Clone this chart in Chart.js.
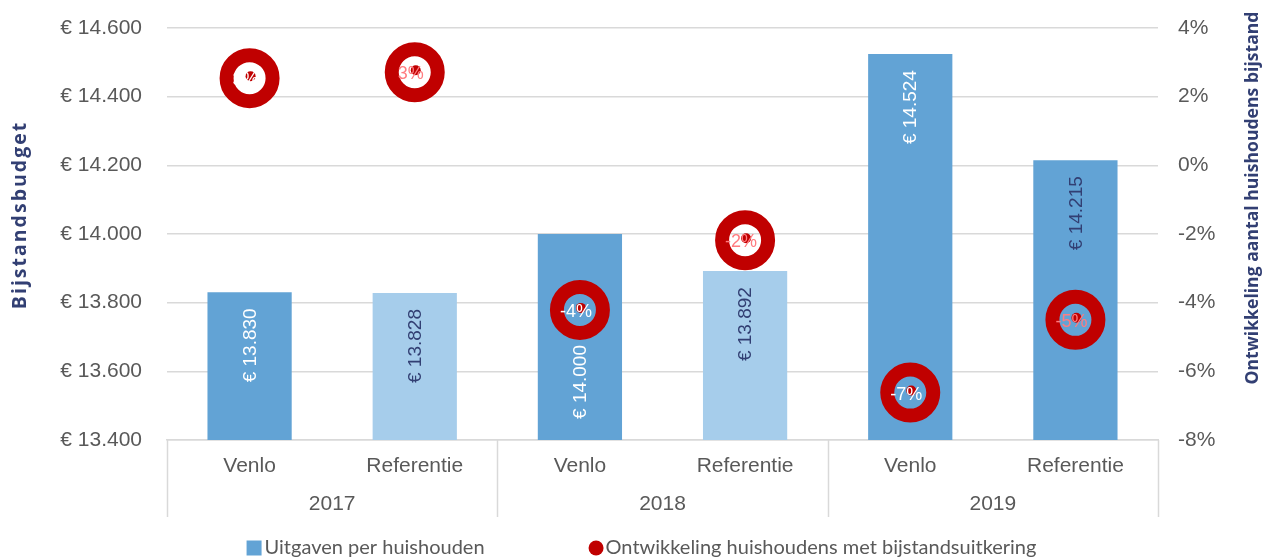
<!DOCTYPE html>
<html>
<head>
<meta charset="utf-8">
<script src="https://cdn.jsdelivr.net/npm/chart.js@4.4.1/dist/chart.umd.min.js"></script>
<style>
  html, body { margin: 0; padding: 0; background: #fff; }
  #chart { display: block; }
</style>
</head>
<body>
<canvas id="chart" width="1263" height="558"></canvas>
<script>
const categories = ['Venlo', 'Referentie', 'Venlo', 'Referentie', 'Venlo', 'Referentie'];
const years = ['2017', '2018', '2019'];
const uitgaven = [13830, 13828, 14000, 13892, 14524, 14215];
const ontwikkeling = [2.54, 2.71, -4.21, -2.18, -6.62, -4.5];
const leftTicks = { min: 13400, max: 14600, step: 200 };
const rightTicks = { min: -8, max: 4, step: 2 };

const darkBlue = '#62a3d5';
const lightBlue = '#a6cdeb';
const red = '#c00000';
const navy = '#323f73';
const grey = '#595959';
const gridGrey = '#d9d9d9';
const tickFont = { family: '"Liberation Sans", Arial', size: 21 };

function euro(v) {
  return '€ ' + String(Math.round(v)).replace(/\B(?=(\d{3})+(?!\d))/g, '.');
}
function pct(v) {
  const r = Math.round(Math.abs(v)) * Math.sign(v);
  return (r === 0 ? 0 : r) + '%';
}

// labels, titles, separators and legend drawn on top of the chart
const extras = {
  id: 'extras',
  afterDatasetsDraw(chart) {
    const ctx = chart.ctx;
    const barMeta = chart.getDatasetMeta(0);
    const pointMeta = chart.getDatasetMeta(1);
    const shift = [0, 0, 95, 0, 0, 0];

    // bar value labels, rotated
    ctx.save();
    ctx.font = '19px "Liberation Sans", Arial, sans-serif';
    ctx.textBaseline = 'middle';
    ctx.textAlign = 'right';
    barMeta.data.forEach((bar, i) => {
      ctx.save();
      ctx.translate(bar.x, bar.y + 16 + shift[i]);
      ctx.rotate(-Math.PI / 2);
      ctx.fillStyle = categories[i] === 'Venlo' ? '#ffffff' : navy;
      ctx.fillText(euro(uitgaven[i]), 0, 1);
      ctx.restore();
    });
    ctx.restore();

    // centre dots and point labels
    ctx.save();
    pointMeta.data.forEach((pt, i) => {
      ctx.beginPath();
      ctx.arc(pt.x + 1, pt.y - 2, 5, 0, Math.PI * 2);
      ctx.fillStyle = red;
      ctx.fill();
    });
    ctx.font = '18px "Liberation Sans", Arial, sans-serif';
    ctx.textAlign = 'center';
    ctx.textBaseline = 'middle';
    pointMeta.data.forEach((pt, i) => {
      ctx.fillStyle = categories[i] === 'Venlo' ? '#ffffff' : '#ff7c80';
      ctx.fillText(pct(ontwikkeling[i]), pt.x - 4, pt.y + 2);
    });
    ctx.restore();
  },
  afterDraw(chart) {
    const ctx = chart.ctx;
    const area = chart.chartArea;
    const x2 = chart.scales.x2;

    // year separators
    ctx.save();
    ctx.strokeStyle = gridGrey;
    ctx.lineWidth = 1.5;
    for (let i = 0; i <= years.length; i++) {
      const x = Math.round(x2.left + i * x2.width / years.length) + 0.5;
      ctx.beginPath();
      ctx.moveTo(x, area.bottom);
      ctx.lineTo(x, x2.bottom);
      ctx.stroke();
    }
    ctx.restore();

    // axis titles
    ctx.save();
    ctx.fillStyle = navy;
    ctx.textAlign = 'center';
    ctx.textBaseline = 'middle';
    ctx.save();
    ctx.font = 'bold 19.5px "Open Sans", sans-serif';
    ctx.letterSpacing = '2px';
    ctx.translate(20, 215);
    ctx.rotate(-Math.PI / 2);
    ctx.fillText('Bijstandsbudget', 0, 0);
    ctx.restore();
    ctx.save();
    ctx.font = 'bold 17.6px "Open Sans", sans-serif';
    ctx.translate(1253, 198);
    ctx.rotate(-Math.PI / 2);
    ctx.fillText('Ontwikkeling aantal huishoudens bijstand', 0, 0);
    ctx.restore();
    ctx.restore();

    // legend
    ctx.save();
    ctx.font = '20px Lato, sans-serif';
    ctx.textBaseline = 'middle';
    ctx.textAlign = 'left';
    const ds = chart.data.datasets;
    const w1 = ctx.measureText(ds[0].label).width;
    const w2 = ctx.measureText(ds[1].label).width;
    const box = 15, between = 104;
    const total = box + 3 + w1 + between + box + 2 + w2;
    let x = (chart.width - total) / 2 + 10;
    const y = 548;
    ctx.fillStyle = darkBlue;
    ctx.fillRect(x, y - box / 2, box, box);
    x += box + 3;
    ctx.fillStyle = grey;
    ctx.fillText(ds[0].label, x, y);
    x += w1 + between;
    ctx.beginPath();
    ctx.arc(x + box / 2, y, box / 2, 0, Math.PI * 2);
    ctx.fillStyle = red;
    ctx.fill();
    x += box + 2;
    ctx.fillStyle = grey;
    ctx.fillText(ds[1].label, x, y);
    ctx.restore();
  }
};

function fixVertical(width) {
  return s => {
    s.width = width;
    s.paddingTop = 0;
    s.paddingBottom = 0;
  };
}

const ctx = document.getElementById('chart').getContext('2d');
const chart = new Chart(ctx, {
  type: 'bar',
  data: {
    labels: categories,
    datasets: [{
      type: 'bar',
      label: 'Uitgaven per huishouden',
      data: uitgaven,
      backgroundColor: [darkBlue, lightBlue, darkBlue, lightBlue, darkBlue, darkBlue],
      barPercentage: 0.51,
      categoryPercentage: 1,
      xAxisID: 'x',
      yAxisID: 'y',
      order: 1
    }, {
      type: 'line',
      label: 'Ontwikkeling huishoudens met bijstandsuitkering',
      data: ontwikkeling,
      showLine: false,
      pointRadius: 23,
      pointHoverRadius: 23,
      pointBorderWidth: 14,
      pointBorderColor: red,
      pointBackgroundColor: 'rgba(0,0,0,0)',
      xAxisID: 'x',
      yAxisID: 'y1',
      order: 0
    }]
  },
  options: {
    responsive: false,
    animation: false,
    devicePixelRatio: 1,
    layout: { autoPadding: false, padding: { top: 28, left: 0, right: 0, bottom: 41 } },
    plugins: {
      legend: { display: false },
      tooltip: { enabled: false }
    },
    scales: {
      x: {
        position: 'bottom',
        offset: true,
        grid: { display: false },
        border: { color: gridGrey, width: 1.5 },
        ticks: { color: grey, font: tickFont, padding: 6, maxRotation: 0 },
        afterFit: s => { s.height = 42; }
      },
      x2: {
        type: 'category',
        labels: years,
        position: 'bottom',
        offset: true,
        grid: { display: false },
        border: { display: false },
        ticks: { color: grey, font: tickFont, padding: 2 },
        afterFit: s => { s.height = 35; }
      },
      y: {
        position: 'left',
        min: leftTicks.min,
        max: leftTicks.max,
        grid: { color: gridGrey, lineWidth: 1.5, drawTicks: false },
        border: { display: false },
        ticks: {
          stepSize: leftTicks.step,
          color: grey,
          font: tickFont,
          padding: 25,
          callback: v => euro(v)
        },
        afterFit: fixVertical(167)
      },
      y1: {
        position: 'right',
        min: rightTicks.min,
        max: rightTicks.max,
        grid: { drawOnChartArea: false, drawTicks: false },
        border: { display: false },
        ticks: {
          stepSize: rightTicks.step,
          color: grey,
          font: tickFont,
          padding: 20,
          callback: v => v + '%'
        },
        afterFit: fixVertical(105)
      }
    }
  },
  plugins: [extras]
});
</script>
</body>
</html>
